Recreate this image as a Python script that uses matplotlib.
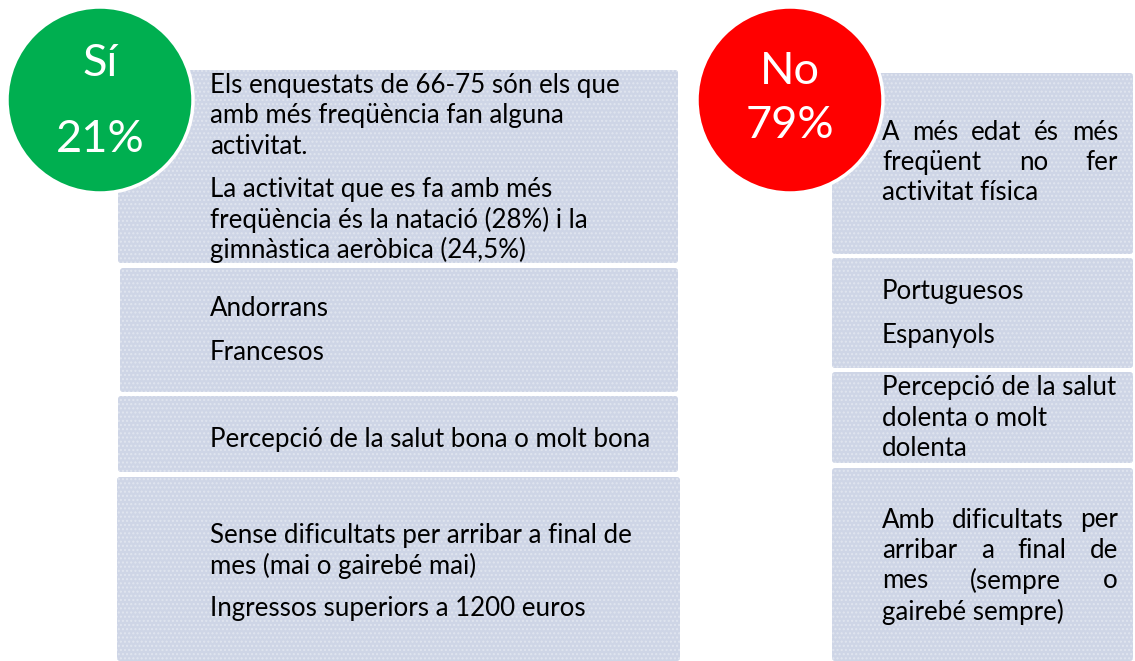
#!/usr/bin/env python3

# imports
import matplotlib
matplotlib.use('Agg')
matplotlib.rcParams['font.family'] = ['Lato', 'DejaVu Sans']
import matplotlib.pyplot as plt
from matplotlib.patches import Circle, FancyBboxPatch

# data: answer circles
answers = ['Sí', 'No']
percents = ['21%', '79%']
answer_colors = ['#00AF50', '#FF0000']

# data: text blocks (each entry = box, list of paragraphs, each paragraph = list of lines)
si_blocks = [
    [['Els enquestats de 66-75 són els que', 'amb més freqüència fan alguna', 'activitat.'],
     ['La activitat que es fa amb més', 'freqüència és la natació (28%) i la', 'gimnàstica aeròbica (24,5%)']],
    [['Andorrans'], ['Francesos']],
    [['Percepció de la salut bona o molt bona']],
    [['Sense dificultats per arribar a final de', 'mes (mai o gairebé mai)'],
     ['Ingressos superiors a 1200 euros']],
]
no_blocks = [
    [['A més edat és més', 'freqüent no fer', 'activitat física']],
    [['Portuguesos'], ['Espanyols']],
    [['Percepció de la salut', 'dolenta o molt', 'dolenta']],
    [['Amb dificultats per', 'arribar a final de', 'mes (sempre o', 'gairebé sempre)']],
]
# which lines are justified on the right column
no_justified = [
    [[True, True, False]],
    [[False], [False]],
    [[False, False, False]],
    [[True, True, True, False]],
]

# layout (pixels)
W, H = 1135, 661
si_boxes = [(118, 70, 678, 263), (120, 268, 678, 392), (118, 396, 678, 472), (117, 477, 680, 661)]
no_boxes = [(832, 73, 1133, 254), (832, 258, 1133, 368), (832, 372, 1133, 463), (832, 468, 1133, 661)]
si_first_line = [85, 309, 439, 535]
no_first_line = [132, 292, 388, 520]
line_step = 30.5
para_gap = 43
box_color = '#CED5E6'
fs = 18.6

fig = plt.figure(figsize=(W / 100, H / 100), dpi=100)
ax = fig.add_axes([0, 0, 1, 1])
ax.set_xlim(0, W)
ax.set_ylim(H, 0)
ax.axis('off')


def draw_box(b):
    x0, y0, x1, y1 = b
    p = FancyBboxPatch((x0, y0), x1 - x0, y1 - y0, boxstyle='round,pad=0,rounding_size=3',
                       facecolor=box_color, edgecolor='none', zorder=1)
    ax.add_patch(p)
    p2 = FancyBboxPatch((x0, y0), x1 - x0, y1 - y0, boxstyle='round,pad=0,rounding_size=3',
                        facecolor='none', edgecolor='#E0E5EF', hatch='....', linewidth=0, zorder=1.1)
    ax.add_patch(p2)


renderer = fig.canvas.get_renderer()


def text_width(s):
    t = ax.text(0, 0, s, fontsize=fs)
    bb = t.get_window_extent(renderer)
    t.remove()
    return bb.width  # pixels == data units here


def draw_justified(words, x0, x1, y):
    widths = [text_width(w) for w in words]
    gap = (x1 - x0 - sum(widths)) / (len(words) - 1)
    x = x0
    for w, wd in zip(words, widths):
        ax.text(x, y, w, fontsize=fs, va='center', ha='left', color='black', zorder=3)
        x += wd + gap


def draw_column(blocks, boxes, firsts, tx, right, justified=None):
    for bi, (paras, b, y) in enumerate(zip(blocks, boxes, firsts)):
        draw_box(b)
        for pi, lines in enumerate(paras):
            for li, line in enumerate(lines):
                if justified is not None and justified[bi][pi][li]:
                    draw_justified(line.split(), tx, right, y)
                else:
                    ax.text(tx, y, line, fontsize=fs, va='center', ha='left', color='black', zorder=3)
                y += line_step
            y += para_gap - line_step


draw_column(si_blocks, si_boxes, si_first_line, 210, 670)
draw_column(no_blocks, no_boxes, no_first_line, 882, 1118, no_justified)

# circles
centers = [(100, 100), (790, 100)]
for (cx, cy), lab, pct, col in zip(centers, answers, percents, answer_colors):
    ax.add_patch(Circle((cx, cy), 93, facecolor=col, edgecolor='white', linewidth=2.5, zorder=4))

big = dict(fontsize=32.5, color='white', ha='center', va='center', zorder=5)
ax.text(100, 63, answers[0], **big)
ax.text(100, 139, percents[0], **big)
ax.text(790, 71, answers[1], **big)
ax.text(790, 126, percents[1], **big)

fig.savefig('out.png', dpi=100)
